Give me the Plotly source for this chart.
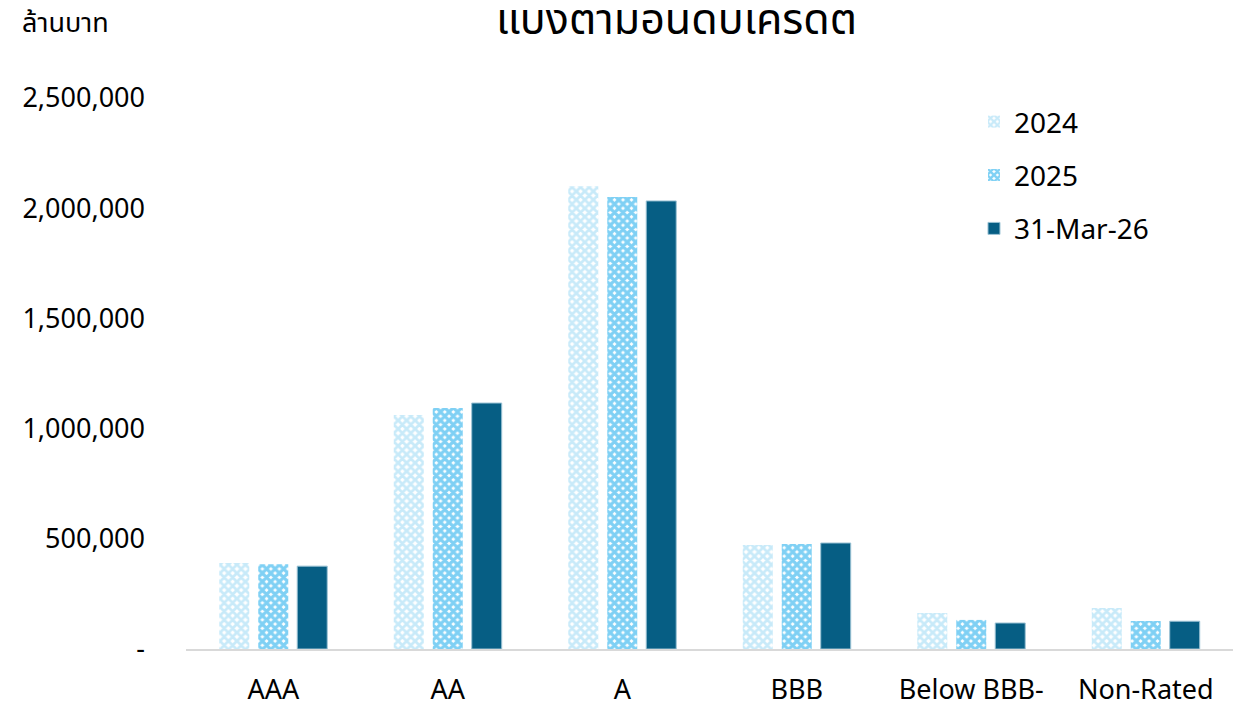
import plotly.graph_objects as go

categories = ["AAA", "AA", "A", "BBB", "Below BBB-", "Non-Rated"]
series_names = ["2024", "2025", "31-Mar-26"]
values_2024 = [390000, 1062000, 2100000, 472000, 163000, 186000]
values_2025 = [385000, 1093000, 2051000, 476000, 132000, 127000]
values_mar26 = [376000, 1116000, 2033000, 481000, 118000, 126000]
tick_vals = [0, 500000, 1000000, 1500000, 2000000, 2500000]
tick_text = ["-", "500,000", "1,000,000", "1,500,000", "2,000,000", "2,500,000"]
title_text = "แบ่งตามอันดับเครดิต"
y_unit = "ล้านบาท"

FONT = "Noto Sans, Noto Sans Thai, sans-serif"

fig = go.Figure()
fig.add_trace(go.Bar(
    x=categories, y=values_2024, name=series_names[0], legendgroup="a",
    marker=dict(color="white", line=dict(width=0),
                pattern=dict(shape="x", fgcolor="#92D5F3", bgcolor="white", size=6, solidity=0.72)),
))
fig.add_trace(go.Bar(
    x=categories, y=values_2025, name=series_names[1], legendgroup="b",
    marker=dict(color="white", line=dict(width=0),
                pattern=dict(shape="x", fgcolor="#00A2EA", bgcolor="white", size=6, solidity=0.78)),
))
fig.add_trace(go.Bar(
    x=categories, y=values_mar26, name=series_names[2], legendgroup="c",
    marker=dict(color="#065E84", line=dict(width=1, color="#9CC3D5")),
))

fig.update_layout(
    width=1238, height=696,
    paper_bgcolor="white", plot_bgcolor="white",
    margin=dict(l=178, r=13, t=90, b=55, autoexpand=False),
    font=dict(family=FONT, size=27, color="black"),
    barmode="group", bargap=0.33, bargroupgap=0.23,
    title=dict(text=title_text, x=0.54, xanchor="center", y=0.984, yanchor="middle",
               font=dict(family=FONT, size=43, color="black")),
    showlegend=True,
    legend=dict(x=0.7526, y=1.002, xanchor="left", yanchor="top", tracegroupgap=14,
                font=dict(size=28), bgcolor="rgba(0,0,0,0)"),
    annotations=[dict(text=y_unit, xref="paper", yref="paper", x=-0.1585, y=1.138,
                      xanchor="left", yanchor="middle", showarrow=False,
                      font=dict(family=FONT, size=27, color="black"))],
)
fig.update_xaxes(showline=True, linecolor="#D9D9D9", linewidth=2, showgrid=False,
                 ticks="", ticklabelstandoff=16, tickfont=dict(size=27), automargin=False)
fig.update_yaxes(range=[0, 2500000], tickvals=tick_vals, ticktext=tick_text,
                 showgrid=False, zeroline=False, showline=False, ticks="",
                 ticklabelstandoff=40, tickfont=dict(size=27), automargin=False)

fig.write_html("out.html")
